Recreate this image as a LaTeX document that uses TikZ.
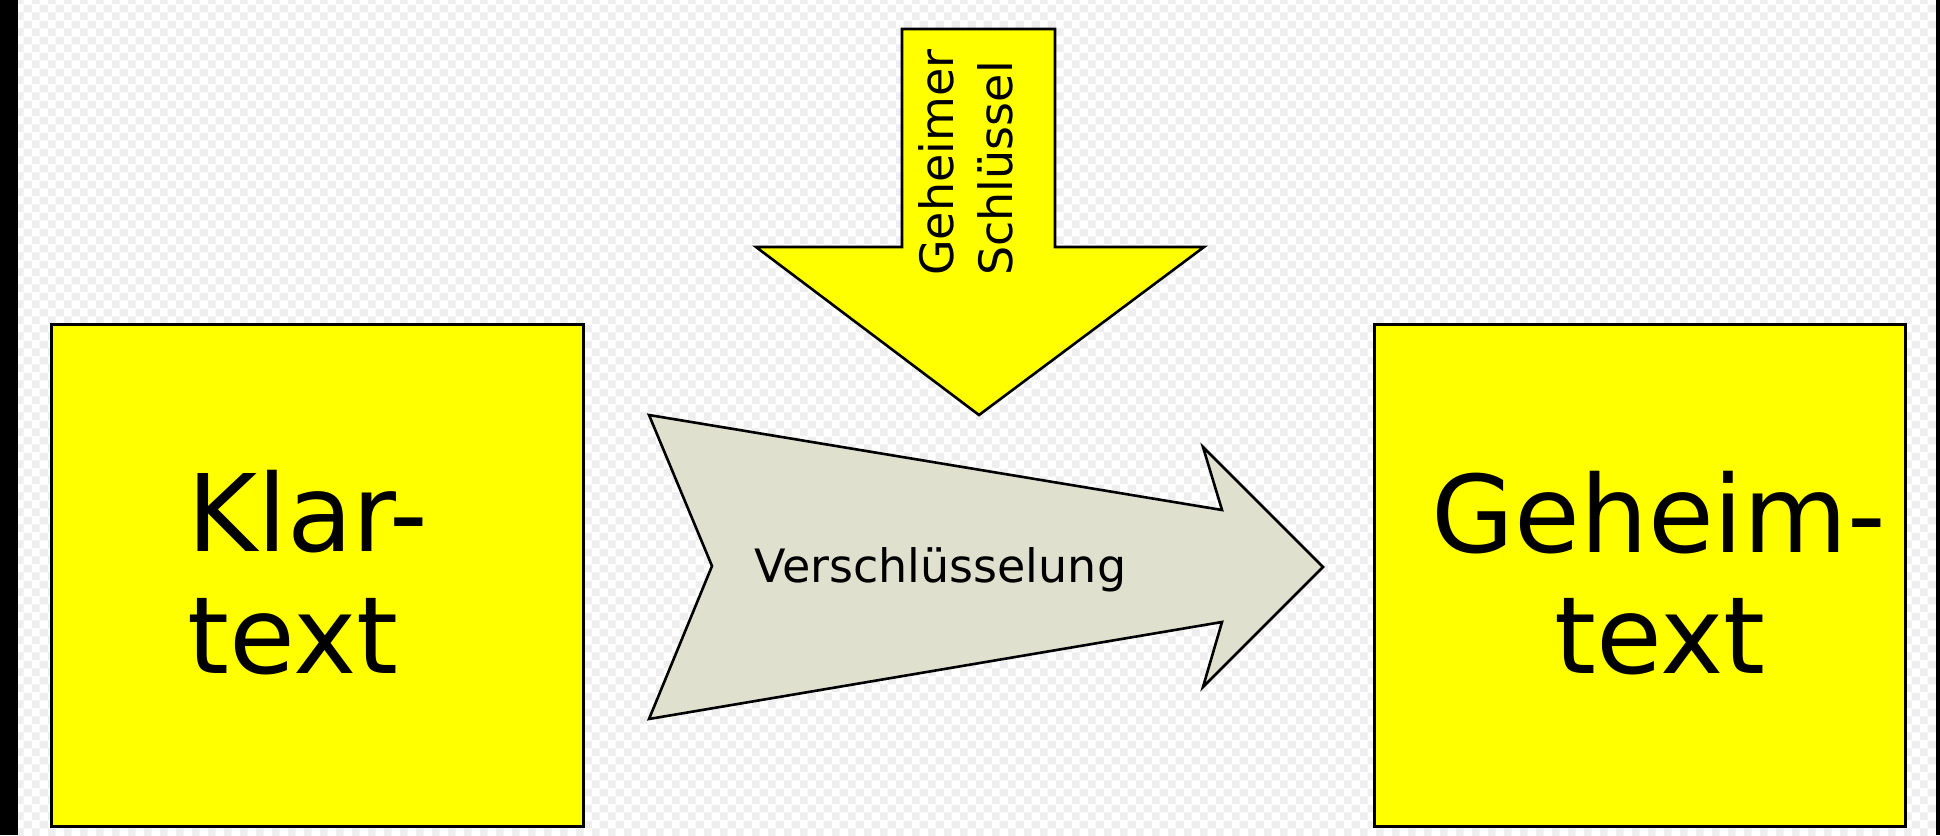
\documentclass[tikz,border=0pt]{standalone}
\usepackage{fontspec}
\setmainfont{DejaVu Sans}
\usetikzlibrary{patterns.meta}
\definecolor{checkgray}{HTML}{EEEEEE}
\definecolor{boxyellow}{HTML}{FFFF00}
\definecolor{arrowgray}{HTML}{DFE0CE}
\pgfdeclarepattern{
  name=checker, type=colored,
  bottom left={\pgfpoint{0pt}{0pt}},
  top right={\pgfpoint{16pt}{16pt}},
  tile size={\pgfpoint{16pt}{16pt}},
  code={
    \pgfsetfillcolor{checkgray}
    \pgfpathrectangle{\pgfpoint{0pt}{0pt}}{\pgfpoint{8pt}{8pt}}
    \pgfpathrectangle{\pgfpoint{8pt}{8pt}}{\pgfpoint{8pt}{8pt}}
    \pgfusepath{fill}
  }
}
\tikzset{
  textbox/.style={draw=black, line width=3pt, fill=boxyellow, line join=miter},
  bigarrow/.style={draw=black, line width=2.6pt, line join=miter},
  bigtext/.style={inner sep=0pt, font=\fontsize{107}{122}\selectfont},
  smalltext/.style={inner sep=0pt, font=\fontsize{46}{59}\selectfont}
}
\begin{document}
\begin{tikzpicture}[x=1pt, y=-1pt]
\useasboundingbox (0,0) rectangle (1940,835);
% background
\fill[white] (0,0) rectangle (1940,835);
\fill[pattern=checker] (18,0) rectangle (1936,835);
\fill[black] (0,0) rectangle (18,835);
\fill[black] (1936,0) rectangle (1940,835);

% boxes
\draw[textbox] (51.5,324) rectangle (583,826.5);
\draw[textbox] (1374.5,324) rectangle (1905.5,826.5);
\node[bigtext, anchor=base west] (klar1) at (187,551) {Klar-};
\node[bigtext, anchor=base west] (klar2) at (187,673) {text};
\node[bigtext, anchor=base] (geh1) at (1659,552) {Geheim-};
\node[bigtext, anchor=base] (geh2) at (1660,673) {text};

% key arrow
\draw[bigarrow, fill=boxyellow]
  (902,29) -- (1055,29) -- (1055,247) -- (1204,247) -- (979,415)
  -- (756,247) -- (902,247) -- cycle;
\node[smalltext, rotate=90, anchor=base west] (key1) at (953,276) {Geheimer};
\node[smalltext, rotate=90, anchor=base west] (key2) at (1012,276) {Schlüssel};

% encryption arrow
\draw[bigarrow, fill=arrowgray]
  (649,415) -- (1222,510) -- (1203,447) -- (1323,567) -- (1203,687)
  -- (1222,622) -- (649,719) -- (712,566) -- cycle;
\node[smalltext, anchor=base west] (enc) at (754,582) {Verschlüsselung};
\end{tikzpicture}
\end{document}
